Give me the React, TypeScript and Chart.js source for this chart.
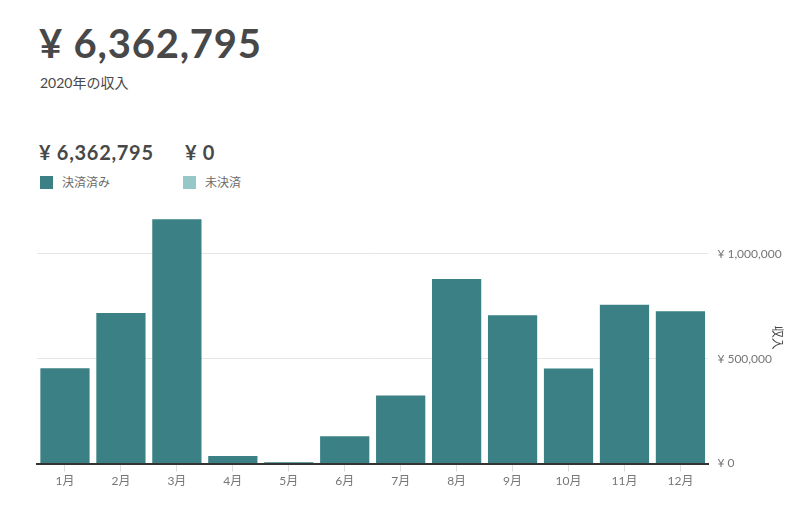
import React, { useEffect, useRef } from "react";
import { Chart, registerables } from "chart.js";

Chart.register(...registerables);

const months = ["1月", "2月", "3月", "4月", "5月", "6月", "7月", "8月", "9月", "10月", "11月", "12月"];
const settled = [455000, 718000, 1165000, 36000, 6000, 131000, 325000, 880000, 708000, 454000, 758000, 727000];
const unsettled = [0, 0, 0, 0, 0, 0, 0, 0, 0, 0, 0, 0];
const yTicks = [0, 500000, 1000000];
const yMax = 1200000;

const totalText = "¥ 6,362,795";
const subtitleText = "2020年の収入";
const settledTotalText = "¥ 6,362,795";
const unsettledTotalText = "¥ 0";
const settledLabel = "決済済み";
const unsettledLabel = "未決済";
const axisTitle = "収入";

const SETTLED_COLOR = "#3a8084";
const UNSETTLED_COLOR = "#96c8c7";
const FONT = "Lato, 'Noto Sans CJK JP', sans-serif";

export default function App() {
  const ref = useRef<HTMLCanvasElement | null>(null);

  useEffect(() => {
    document.body.style.margin = "0";
    if (!ref.current) return;
    const chart = new Chart(ref.current, {
      type: "bar",
      data: {
        labels: months,
        datasets: [
          {
            label: settledLabel,
            data: settled,
            backgroundColor: SETTLED_COLOR,
            barPercentage: 0.88,
            categoryPercentage: 1.0,
          },
          {
            label: unsettledLabel,
            data: unsettled,
            backgroundColor: UNSETTLED_COLOR,
            barPercentage: 0.88,
            categoryPercentage: 1.0,
          },
        ],
      },
      options: {
        animation: false,
        responsive: true,
        maintainAspectRatio: false,
        layout: { padding: { left: 9, top: 17, right: 9, bottom: 0 } },
        plugins: { legend: { display: false }, tooltip: { enabled: false } },
        scales: {
          x: {
            stacked: true,
            grid: {
              display: true,
              drawOnChartArea: false,
              drawTicks: true,
              tickLength: 8,
              color: "#dddddd",
              offset: false,
            },
            border: { display: true, color: "#333333", width: 2 },
            ticks: { color: "#767676", font: { family: FONT, size: 12 }, padding: 2 },
          },
          y: {
            stacked: true,
            position: "right",
            min: 0,
            max: yMax,
            afterBuildTicks: (axis: any) => {
              axis.ticks = yTicks.map((v) => ({ value: v }));
            },
            grid: { color: "#e6e6e6", drawTicks: false },
            border: { display: false },
            ticks: {
              color: "#767676",
              padding: 9,
              font: { family: FONT, size: 12 },
              callback: (v: any) => "¥ " + Number(v).toLocaleString("en-US"),
            },
            title: {
              display: true,
              text: axisTitle,
              color: "#484848",
              font: { family: FONT, size: 12 },
              padding: { top: 7, bottom: -21 },
            },
          },
        },
      },
    });
    return () => chart.destroy();
  }, []);

  const text = { fontFamily: FONT, color: "#484848", position: "absolute" as const, whiteSpace: "nowrap" as const };

  return (
    <div style={{ position: "relative", width: 800, height: 505, background: "#fff", overflow: "hidden" }}>
      <div style={{ ...text, left: 39, top: 18, fontSize: 40, fontWeight: 700, lineHeight: "50px", letterSpacing: "0.8px" }}>{totalText}</div>
      <div style={{ ...text, left: 40, top: 74, fontSize: 14, lineHeight: "18px" }}>{subtitleText}</div>
      <div style={{ ...text, left: 39, top: 139, fontSize: 20, fontWeight: 700, lineHeight: "26px", letterSpacing: "0.7px" }}>{settledTotalText}</div>
      <div style={{ ...text, left: 185, top: 139, fontSize: 20, fontWeight: 700, lineHeight: "26px", letterSpacing: "0.7px" }}>{unsettledTotalText}</div>
      <div style={{ position: "absolute", left: 40, top: 176, width: 13, height: 13, background: SETTLED_COLOR }} />
      <div style={{ ...text, left: 62, top: 174, fontSize: 12, lineHeight: "17px", color: "#6a6a6a" }}>{settledLabel}</div>
      <div style={{ position: "absolute", left: 183, top: 176, width: 13, height: 13, background: UNSETTLED_COLOR }} />
      <div style={{ ...text, left: 205, top: 174, fontSize: 12, lineHeight: "17px", color: "#6a6a6a" }}>{unsettledLabel}</div>
      <div style={{ position: "absolute", left: 28, top: 195, width: 772, height: 295 }}>
        <canvas ref={ref} />
      </div>
    </div>
  );
}
